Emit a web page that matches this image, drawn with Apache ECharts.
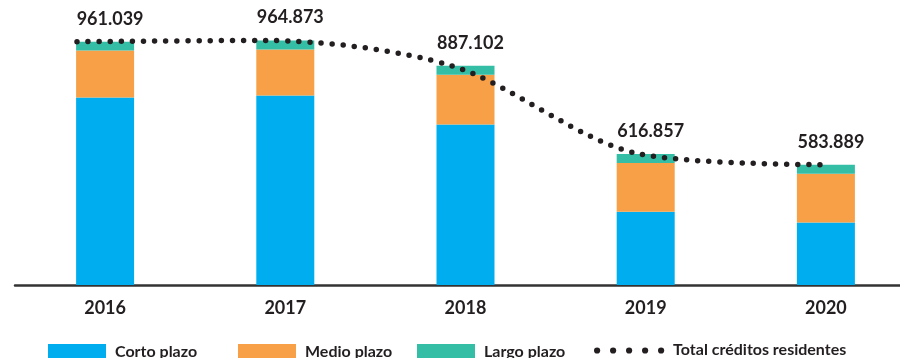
<!DOCTYPE html>
<html>
<head>
<meta charset="utf-8">
<script src="https://cdn.jsdelivr.net/npm/echarts@6/dist/echarts.min.js"></script>
<style>
  html, body { margin: 0; padding: 0; background: #ffffff; }
  #chart { width: 900px; height: 358px; }
</style>
</head>
<body>
<div id="chart"></div>
<script>
// Créditos a residentes por plazo (stacked) and their yearly total
const years = ['2016', '2017', '2018', '2019', '2020'];
const cortoPlazo = [790039, 795973, 706902, 439657, 406689];
const medioPlazo = [144300, 141300, 152600, 149600, 149600];
const largoPlazo = [26700, 27600, 27600, 27600, 27600];
const totalResidentes = [961039, 964873, 887102, 616857, 583889];
const totalName = 'Total créditos residentes';

const INK = '#231f20';
const FONT = 'Lato, "Noto Sans", sans-serif';
const COLORS = { corto: '#00aeef', medio: '#f7a047', largo: '#35bea6' };

// Spanish thousands separator
const fmt = v => String(v).replace(/\B(?=(\d{3})+(?!\d))/g, '.');

const chart = echarts.init(document.getElementById('chart'), null, { renderer: 'canvas' });

const legendTextStyle = {
  color: INK, fontFamily: FONT, fontSize: 16, fontWeight: 'bold', padding: [0, 0, 3, 4]
};

function boxLegend(name, left) {
  return {
    data: [{ name: name, icon: 'rect' }],
    left: left, top: 344, padding: 0,
    itemWidth: 58, itemHeight: 16,
    selectedMode: false,
    textStyle: legendTextStyle
  };
}

// key for the dotted total line: five round dots followed by the series name
const dotKey = {
  type: 'group',
  left: 594,
  top: 342,
  children: [0, 1, 2, 3, 4].map(i => ({
    type: 'circle',
    shape: { cx: 3 + i * 16, cy: 8.5, r: 3.1 },
    style: { fill: INK }
  })).concat([{
    type: 'text',
    x: 79,
    y: 0,
    style: {
      text: totalName,
      fill: INK,
      font: 'bold 16px ' + FONT,
      textVerticalAlign: 'top'
    }
  }])
};

const option = {
  animation: false,
  backgroundColor: '#ffffff',
  grid: { left: 15, width: 901, top: 29, bottom: 73, outerBoundsMode: 'none', containLabel: false },
  xAxis: [
    {
      type: 'category',
      data: years,
      boundaryGap: true,
      axisLine: { lineStyle: { color: '#333333', width: 2.5 } },
      axisTick: { show: false },
      axisLabel: { color: INK, fontFamily: FONT, fontSize: 18, fontWeight: 'bold', margin: 14 }
    },
    {
      // positions for the total line
      type: 'value',
      min: -0.3308,
      max: 4.477,
      show: false
    }
  ],
  yAxis: {
    type: 'value',
    min: 215000,
    max: 1000000,
    show: false
  },
  legend: [
    boxLegend('Corto plazo', 48),
    boxLegend('Medio plazo', 238),
    boxLegend('Largo plazo', 417)
  ],
  graphic: [dotKey],
  series: [
    {
      name: 'Corto plazo', type: 'bar', stack: 'plazo', barWidth: 58, clip: true,
      itemStyle: { color: COLORS.corto },
      emphasis: { disabled: true },
      data: cortoPlazo
    },
    {
      name: 'Medio plazo', type: 'bar', stack: 'plazo', barWidth: 58, clip: true,
      itemStyle: { color: COLORS.medio },
      emphasis: { disabled: true },
      data: medioPlazo
    },
    {
      name: 'Largo plazo', type: 'bar', stack: 'plazo', barWidth: 58, clip: true,
      itemStyle: { color: COLORS.largo },
      emphasis: { disabled: true },
      label: {
        show: true,
        position: 'top',
        distance: 14,
        offset: [5, 0],
        color: INK,
        fontFamily: FONT,
        fontSize: 18,
        fontWeight: 'bold',
        formatter: p => fmt(totalResidentes[p.dataIndex])
      },
      data: largoPlazo
    },
    {
      name: totalName, type: 'line',
      xAxisIndex: 1,
      smooth: 0.3,
      symbol: 'none',
      z: 5,
      itemStyle: { color: INK },
      lineStyle: { color: INK, width: 5.5, type: [0, 11.1], cap: 'round' },
      emphasis: { disabled: true },
      data: totalResidentes.map((v, i) => [i, v])
    }
  ]
};

chart.setOption(option);
</script>
</body>
</html>
